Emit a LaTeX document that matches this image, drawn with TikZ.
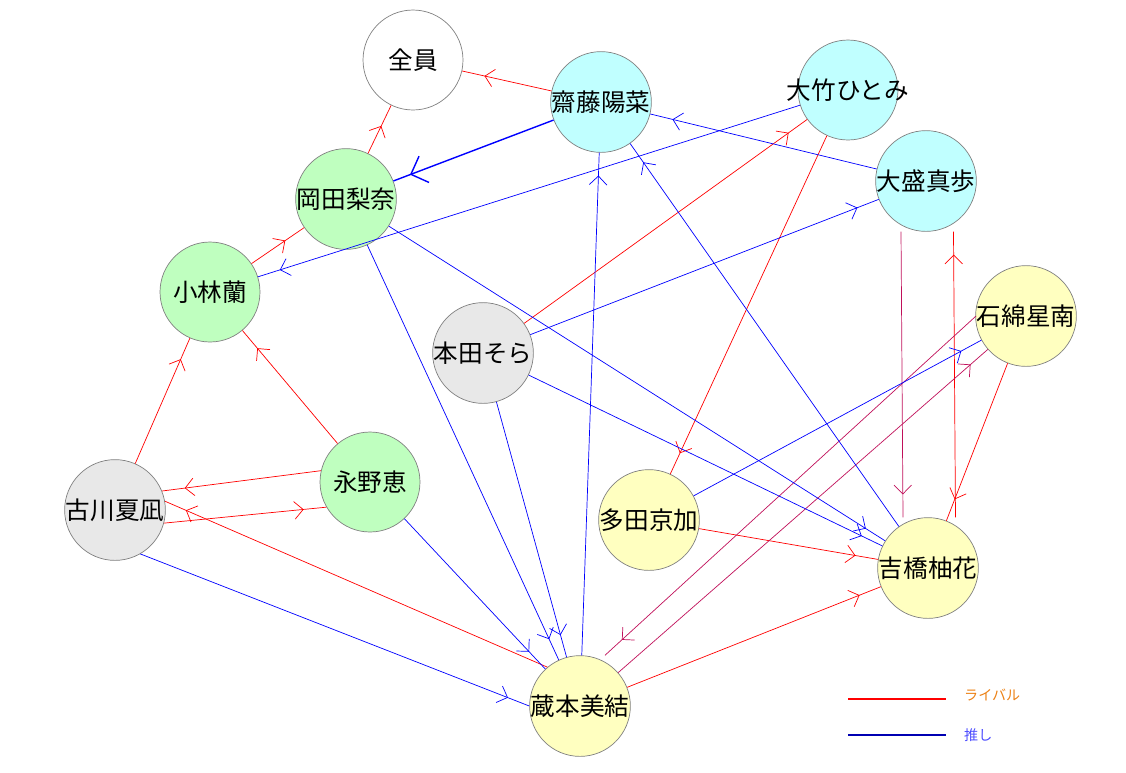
\documentclass[tikz,border=0pt]{standalone}
\usepackage{fontspec}
\setmainfont{Noto Sans CJK JP}
\usetikzlibrary{arrows.meta,decorations.markings}
\definecolor{cyanfill}{HTML}{C0FFFF}
\definecolor{greenfill}{HTML}{BFFFBF}
\definecolor{grayfill}{HTML}{E8E8E8}
\definecolor{yellowfill}{HTML}{FFFFC0}
\definecolor{plum}{HTML}{C0105A}
\begin{document}
\begin{tikzpicture}[
    x=0.02cm, y=-0.02cm,
    member/.style={circle, draw=gray, fill=#1, minimum size=2cm, inner sep=0pt, font=\fontsize{14}{16}\selectfont},
    tipmark/.style={postaction={decorate}, decoration={markings,
        mark=at position -13pt with {\arrow{Straight Barb[length=5pt,width=10pt]}}}},
    rival/.style={red, thin, tipmark},
    push/.style={blue, thin, tipmark},
    both/.style={plum, thin, tipmark}
]

    % --- members ---
    \node[member=white]      (zenin)  at (413,60)  {全員};
    \node[member=cyanfill]   (saito)  at (601,102) {齋藤陽菜};
    \node[member=cyanfill]   (otake)  at (848,90)  {\makebox[0pt]{大竹ひとみ}};
    \node[member=cyanfill]   (omori)  at (926,181) {大盛真歩};
    \node[member=greenfill]  (okada)  at (346,199) {岡田梨奈};
    \node[member=greenfill]  (koba)   at (210,292) {小林蘭};
    \node[member=grayfill]   (honda)  at (483,353) {本田そら};
    \node[member=yellowfill] (ishi)   at (1026,316) {石綿星南};
    \node[member=greenfill]  (nagano) at (370,482) {永野恵};
    \node[member=grayfill]   (furu)   at (115,510) {古川夏凪};
    \node[member=yellowfill] (tada)   at (649,520) {多田京加};
    \node[member=yellowfill] (yoshi)  at (928,568) {吉橋柚花};
    \node[member=yellowfill] (kura)   at (580,706) {蔵本美結};

    % --- rivals ---
    \draw[rival] (saito) -- (zenin);
    \draw[rival] (okada) -- (zenin);
    \draw[rival] (koba) -- (okada);
    \draw[rival] (furu) -- (koba);
    \draw[rival] (nagano) -- (koba);
    \draw[rival] (nagano.167) -- (furu.22);
    \draw[rival] (furu.-15) -- (nagano.-150);
    \draw[rival] (kura.130) -- (furu.10);
    \draw[rival] (honda) -- (otake);
    \draw[rival] (otake) -- (tada);
    \draw[rival] (tada) -- (yoshi);
    \draw[rival] (kura) -- (yoshi);
    \draw[rival] ([xshift=0.55cm]yoshi.north) -- ([xshift=0.55cm]omori.south);
    \draw[rival] (ishi) -- (yoshi);

    % --- both ---
    \draw[both] ([xshift=-1cm]ishi.center) -- ([xshift=0.5cm]kura.north);
    \draw[both] (kura) -- (ishi);
    \draw[both] ([xshift=-0.5cm]omori.south) -- ([xshift=-0.5cm]yoshi.north);

    % --- oshi ---
    \draw[blue, thick, postaction={decorate}, decoration={markings,
        mark=at position -10pt with {\arrow{Straight Barb[length=8pt,width=16pt]}}}]
        (saito) -- (okada);
    \draw[push] (otake) -- (koba);
    \draw[push] (omori) -- (saito);
    \draw[push] (honda) -- (omori);
    \draw[push] (okada) -- (yoshi);
    \draw[push] (honda) -- (yoshi);
    \draw[push] (yoshi) -- (saito);
    \draw[push] (kura) -- (saito);
    \draw[push] (okada) -- (kura);
    \draw[push] (honda) -- (kura);
    \draw[push] (nagano) -- (kura);
    \draw[push] (furu.-60) -- (kura.180);
    \draw[push] (tada) -- (ishi);

    % --- legend ---
    \coordinate (r1) at (848,699);
    \coordinate (r2) at (946,699);
    \coordinate (b1) at (848,735);
    \coordinate (b2) at (946,735);
    \draw[red, thick] (r1) -- (r2);
    \draw[blue!70!black, thick] (b1) -- (b2);
    \node[anchor=west, text=orange!70!brown, font=\footnotesize] (lr) at (958,695) {ライバル};
    \node[anchor=west, text=blue!70!white, font=\footnotesize] (lb) at (958,735) {推し};

    \useasboundingbox (0,0) rectangle (1126,772);
\end{tikzpicture}
\end{document}
